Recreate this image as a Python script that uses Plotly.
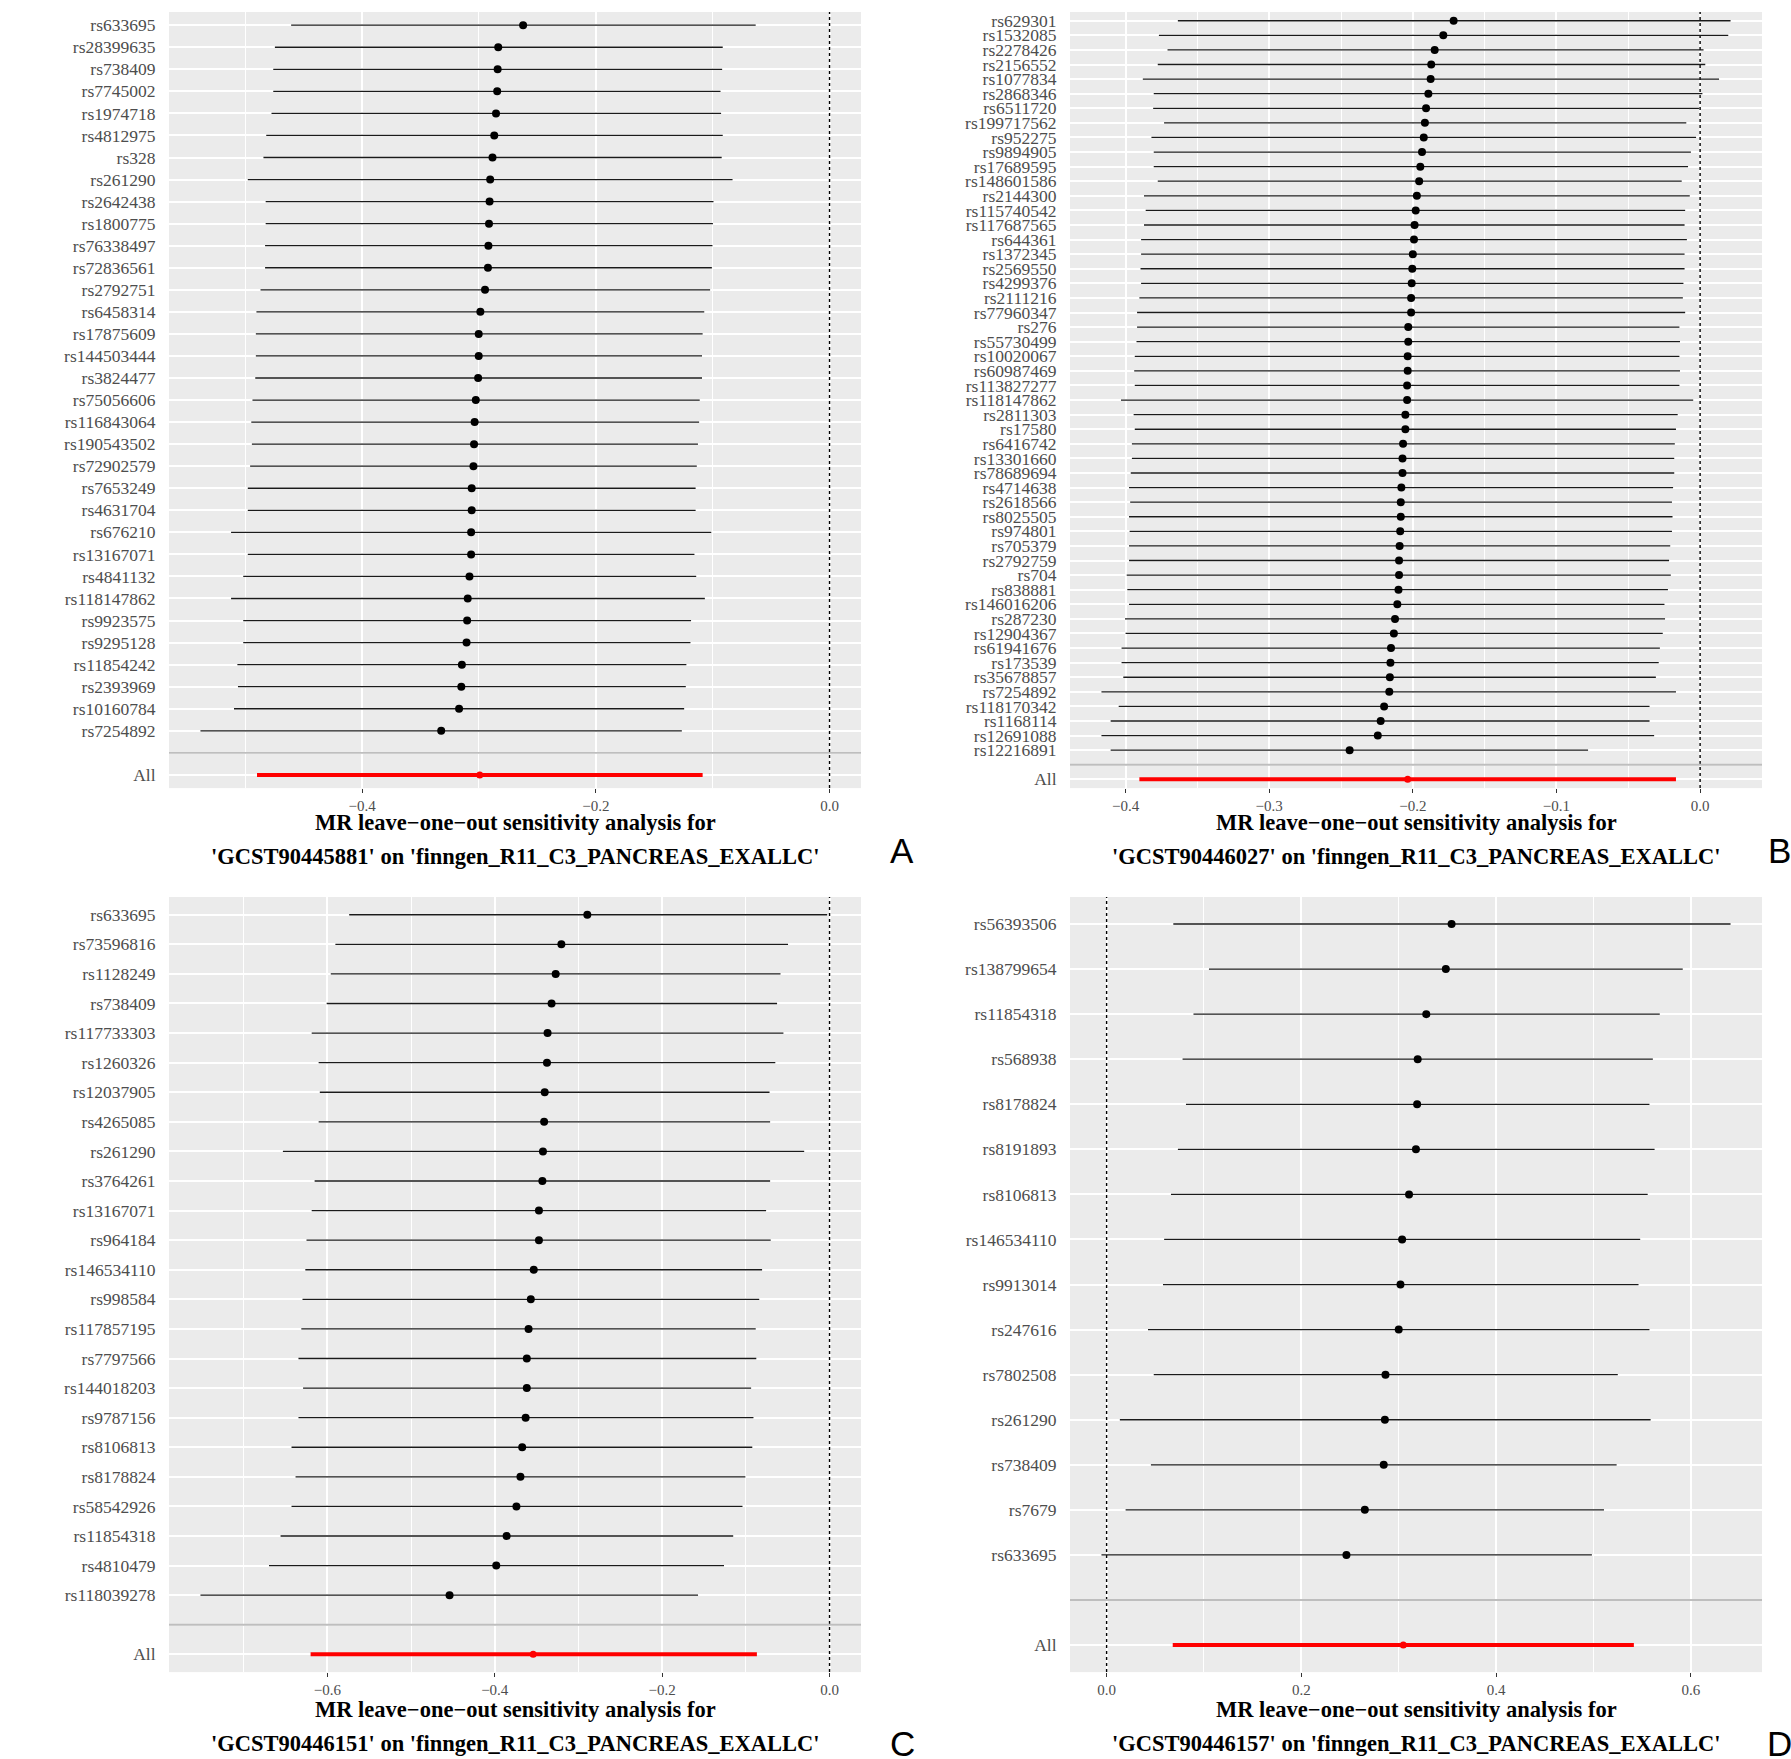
import plotly.graph_objects as go

# ---------------- Panel A : GCST90445881 ----------------
snps_a = ["rs633695", "rs28399635", "rs738409", "rs7745002", "rs1974718", "rs4812975", "rs328",
          "rs261290", "rs2642438", "rs1800775", "rs76338497", "rs72836561", "rs2792751", "rs6458314",
          "rs17875609", "rs144503444", "rs3824477", "rs75056606", "rs116843064", "rs190543502",
          "rs72902579", "rs7653249", "rs4631704", "rs676210", "rs13167071", "rs4841132",
          "rs118147862", "rs9923575", "rs9295128", "rs11854242", "rs2393969", "rs10160784", "rs7254892"]
b_a = [-0.2622, -0.2835, -0.2840, -0.2844, -0.2854, -0.2869, -0.2884, -0.2904, -0.2909, -0.2914,
       -0.2919, -0.2923, -0.2948, -0.2988, -0.3002, -0.3002, -0.3007, -0.3027, -0.3037, -0.3042,
       -0.3047, -0.3062, -0.3062, -0.3067, -0.3067, -0.3081, -0.3096, -0.3101, -0.3106, -0.3146,
       -0.3151, -0.3170, -0.3323]
lo_a = [-0.4607, -0.4746, -0.4760, -0.4760, -0.4775, -0.4820, -0.4844, -0.4978, -0.4825, -0.4825,
        -0.4830, -0.4830, -0.4869, -0.4904, -0.4909, -0.4909, -0.4914, -0.4938, -0.4948, -0.4943,
        -0.4958, -0.4978, -0.4978, -0.5121, -0.4978, -0.5017, -0.5121, -0.5017, -0.5017, -0.5067,
        -0.5062, -0.5096, -0.5383]
hi_a = [-0.0632, -0.0914, -0.0919, -0.0933, -0.0928, -0.0914, -0.0923, -0.0830, -0.0993, -0.0998,
        -0.1002, -0.1007, -0.1022, -0.1072, -0.1086, -0.1091, -0.1091, -0.1111, -0.1116, -0.1126,
        -0.1136, -0.1146, -0.1146, -0.1012, -0.1156, -0.1141, -0.1067, -0.1185, -0.1190, -0.1225,
        -0.1230, -0.1244, -0.1264]
all_a = [-0.2993, -0.4899, -0.1086]   # b, lower, upper

# ---------------- Panel B : GCST90446027 ----------------
snps_b = ["rs629301", "rs1532085", "rs2278426", "rs2156552", "rs1077834", "rs2868346", "rs6511720",
          "rs199717562", "rs952275", "rs9894905", "rs17689595", "rs148601586", "rs2144300",
          "rs115740542", "rs117687565", "rs644361", "rs1372345", "rs2569550", "rs4299376",
          "rs2111216", "rs77960347", "rs276", "rs55730499", "rs10020067", "rs60987469",
          "rs113827277", "rs118147862", "rs2811303", "rs17580", "rs6416742", "rs13301660",
          "rs78689694", "rs4714638", "rs2618566", "rs8025505", "rs974801", "rs705379", "rs2792759",
          "rs704", "rs838881", "rs146016206", "rs287230", "rs12904367", "rs61941676", "rs173539",
          "rs35678857", "rs7254892", "rs118170342", "rs1168114", "rs12691088", "rs12216891"]
b_b = [-0.1716, -0.1788, -0.1848, -0.1872, -0.1876, -0.1892, -0.1908, -0.1916, -0.1924, -0.1936,
       -0.1948, -0.1956, -0.1972, -0.1980, -0.1988, -0.1992, -0.2000, -0.2004, -0.2008, -0.2012,
       -0.2012, -0.2032, -0.2032, -0.2036, -0.2036, -0.2040, -0.2040, -0.2052, -0.2052, -0.2068,
       -0.2072, -0.2072, -0.2080, -0.2084, -0.2084, -0.2088, -0.2092, -0.2096, -0.2096, -0.2100,
       -0.2108, -0.2124, -0.2132, -0.2152, -0.2156, -0.2160, -0.2164, -0.2200, -0.2224, -0.2244,
       -0.2440]
lo_b = [-0.3636, -0.3768, -0.3708, -0.3776, -0.3880, -0.3804, -0.3808, -0.3732, -0.3820, -0.3804,
        -0.3804, -0.3776, -0.3872, -0.3860, -0.3872, -0.3892, -0.3892, -0.3896, -0.3892, -0.3904,
        -0.3920, -0.3920, -0.3924, -0.3936, -0.3940, -0.3936, -0.4032, -0.3944, -0.3936, -0.3956,
        -0.3956, -0.3964, -0.3976, -0.3968, -0.3976, -0.3972, -0.3976, -0.3976, -0.3992, -0.3988,
        -0.3976, -0.4004, -0.4000, -0.4028, -0.4028, -0.4016, -0.4168, -0.4048, -0.4104, -0.4168,
        -0.4104]
hi_b = [0.0212, 0.0196, 0.0024, 0.0036, 0.0132, 0.0016, -0.0008, -0.0096, -0.0028, -0.0064,
        -0.0084, -0.0128, -0.0072, -0.0104, -0.0108, -0.0092, -0.0108, -0.0108, -0.0116, -0.0120,
        -0.0104, -0.0144, -0.0140, -0.0144, -0.0140, -0.0144, -0.0048, -0.0156, -0.0168, -0.0176,
        -0.0180, -0.0180, -0.0188, -0.0196, -0.0192, -0.0196, -0.0208, -0.0216, -0.0204, -0.0224,
        -0.0248, -0.0244, -0.0260, -0.0280, -0.0288, -0.0308, -0.0168, -0.0352, -0.0352, -0.0320,
        -0.0780]
all_b = [-0.2036, -0.3904, -0.0168]

# ---------------- Panel C : GCST90446151 ----------------
snps_c = ["rs633695", "rs73596816", "rs1128249", "rs738409", "rs117733303", "rs1260326",
          "rs12037905", "rs4265085", "rs261290", "rs3764261", "rs13167071", "rs964184",
          "rs146534110", "rs998584", "rs117857195", "rs7797566", "rs144018203", "rs9787156",
          "rs8106813", "rs8178824", "rs58542926", "rs11854318", "rs4810479", "rs118039278"]
b_c = [-0.2894, -0.3204, -0.3272, -0.3321, -0.3369, -0.3376, -0.3403, -0.3410, -0.3424, -0.3431,
       -0.3472, -0.3472, -0.3534, -0.3569, -0.3596, -0.3617, -0.3617, -0.3631, -0.3672, -0.3693,
       -0.3741, -0.3858, -0.3982, -0.4540]
lo_c = [-0.5739, -0.5904, -0.5959, -0.6008, -0.6187, -0.6104, -0.6090, -0.6104, -0.6531, -0.6152,
        -0.6187, -0.6249, -0.6263, -0.6297, -0.6311, -0.6345, -0.6290, -0.6345, -0.6428, -0.6380,
        -0.6428, -0.6559, -0.6697, -0.7516]
hi_c = [-0.0028, -0.0496, -0.0586, -0.0627, -0.0551, -0.0648, -0.0717, -0.0710, -0.0303, -0.0710,
        -0.0758, -0.0703, -0.0806, -0.0840, -0.0882, -0.0875, -0.0937, -0.0909, -0.0923, -0.1006,
        -0.1040, -0.1151, -0.1261, -0.1571]
all_c = [-0.3541, -0.6200, -0.0868]

# ---------------- Panel D : GCST90446157 ----------------
snps_d = ["rs56393506", "rs138799654", "rs11854318", "rs568938", "rs8178824", "rs8191893",
          "rs8106813", "rs146534110", "rs9913014", "rs247616", "rs7802508", "rs261290",
          "rs738409", "rs7679", "rs633695"]
b_d = [0.3543, 0.3484, 0.3283, 0.3195, 0.3189, 0.3177, 0.3106, 0.3035, 0.3018, 0.3000, 0.2864,
       0.2858, 0.2846, 0.2652, 0.2463]
lo_d = [0.0685, 0.1051, 0.0892, 0.0780, 0.0815, 0.0732, 0.0661, 0.0591, 0.0579, 0.0425, 0.0484,
        0.0136, 0.0455, 0.0195, -0.0053]
hi_d = [0.6408, 0.5917, 0.5681, 0.5610, 0.5575, 0.5628, 0.5557, 0.5480, 0.5463, 0.5575, 0.5250,
        0.5587, 0.5238, 0.5108, 0.4984]
all_d = [0.3047, 0.0679, 0.5415]

exposures = ["GCST90445881", "GCST90446027", "GCST90446151", "GCST90446157"]
outcome = "finngen_R11_C3_PANCREAS_EXALLC"
panel_letters = ["A", "B", "C", "D"]
major_dticks = [0.2, 0.1, 0.2, 0.2]

W, H = 1791, 1759
xdom_left = [169 / W, 861 / W]
xdom_right = [1070 / W, 1762 / W]
ydom_top = [1 - 788 / H, 1 - 11 / H]
ydom_bot = [1 - 1673 / H, 1 - 897 / H]
domains = [(xdom_left, ydom_top), (xdom_right, ydom_top), (xdom_left, ydom_bot), (xdom_right, ydom_bot)]
title_y = [(1 - 822 / H, 1 - 856 / H), (1 - 822 / H, 1 - 856 / H),
           (1 - 1710 / H, 1 - 1744 / H), (1 - 1710 / H, 1 - 1744 / H)]
letter_pos = [(902 / W, 1 - 850 / H), (1779 / W, 1 - 850 / H),
              (902 / W, 1 - 1744 / H), (1779 / W, 1 - 1744 / H)]

panels = [(snps_a, b_a, lo_a, hi_a, all_a), (snps_b, b_b, lo_b, hi_b, all_b),
          (snps_c, b_c, lo_c, hi_c, all_c), (snps_d, b_d, lo_d, hi_d, all_d)]

SERIF = "Liberation Serif, Times New Roman, serif"
fig = go.Figure()
annotations = []
layout = {}

for i, (snps, b, lo, hi, allv) in enumerate(panels):
    k = i + 1
    xa = "x" if k == 1 else f"x{k}"
    ya = "y" if k == 1 else f"y{k}"
    n = len(snps)
    ypos = [n + 2 - j for j in range(n)]
    yr = [0.4, n + 2.6]

    xmin = min(min(lo), allv[1], 0)
    xmax = max(max(hi), allv[2], 0)
    pad = 0.05 * (xmax - xmin)
    xr = [xmin - pad, xmax + pad]

    # dotted reference line at zero
    fig.add_trace(go.Scatter(x=[0, 0], y=yr, mode="lines", xaxis=xa, yaxis=ya,
                             line=dict(color="black", width=1.4, dash="dot"),
                             showlegend=False, hoverinfo="skip"))
    # grey separator line at the blank row
    fig.add_trace(go.Scatter(x=xr, y=[2, 2], mode="lines", xaxis=xa, yaxis=ya,
                             line=dict(color="#BEBEBE", width=1.8),
                             showlegend=False, hoverinfo="skip"))

    fig.add_trace(go.Scatter(
        x=b, y=ypos, mode="markers", xaxis=xa, yaxis=ya,
        marker=dict(color="black", size=8),
        error_x=dict(type="data", symmetric=False,
                     array=[h - v for h, v in zip(hi, b)],
                     arrayminus=[v - l for v, l in zip(b, lo)],
                     width=0, thickness=1.3, color="#1a1a1a"),
        showlegend=False, hoverinfo="skip"))
    fig.add_trace(go.Scatter(
        x=[allv[0]], y=[1], mode="markers", xaxis=xa, yaxis=ya,
        marker=dict(color="red", size=7),
        error_x=dict(type="data", symmetric=False, array=[allv[2] - allv[0]],
                     arrayminus=[allv[0] - allv[1]], width=0, thickness=4, color="red"),
        showlegend=False, hoverinfo="skip"))

    dt = major_dticks[i]
    xd, yd = domains[i]
    layout["xaxis" if k == 1 else f"xaxis{k}"] = dict(
        domain=xd, anchor=ya, range=xr,
        dtick=dt, tick0=0, tickformat=".1f",
        showgrid=True, gridcolor="white", gridwidth=2, zeroline=False,
        ticks="outside", ticklen=4, tickwidth=1, tickcolor="#333333",
        tickfont=dict(family=SERIF, size=15, color="#4d4d4d"),
        minor=dict(dtick=dt / 2, tick0=0, showgrid=True, gridcolor="white", gridwidth=1, ticklen=0),
        showline=False, fixedrange=True)
    layout["yaxis" if k == 1 else f"yaxis{k}"] = dict(
        domain=yd, anchor=xa, range=yr,
        tickvals=list(range(1, n + 3)), ticktext=["All", ""] + list(reversed(snps)),
        showgrid=True, gridcolor="white", gridwidth=2, zeroline=False,
        ticks="outside", ticklen=9, tickcolor="rgba(0,0,0,0)",
        tickfont=dict(family=SERIF, size=17.5, color="#4d4d4d"),
        showline=False, fixedrange=True)

    cx = (xd[0] + xd[1]) / 2
    annotations.append(dict(text="<b>MR leave\u2212one\u2212out sensitivity analysis for</b>",
                            x=cx, y=title_y[i][0], xref="paper", yref="paper",
                            xanchor="center", yanchor="middle", showarrow=False,
                            font=dict(family=SERIF, size=22.5, color="black")))
    annotations.append(dict(text=f"<b>'{exposures[i]}' on '{outcome}'</b>",
                            x=cx, y=title_y[i][1], xref="paper", yref="paper",
                            xanchor="center", yanchor="middle", showarrow=False,
                            font=dict(family=SERIF, size=22.5, color="black")))
    annotations.append(dict(text=panel_letters[i], x=letter_pos[i][0], y=letter_pos[i][1],
                            xref="paper", yref="paper", xanchor="center", yanchor="middle",
                            showarrow=False,
                            font=dict(family="Liberation Sans Narrow, Liberation Sans, Arial, sans-serif",
                                      size=35, color="black")))

fig.update_layout(**layout)
fig.update_layout(width=W, height=H, margin=dict(l=0, r=0, t=0, b=0),
                  paper_bgcolor="white", plot_bgcolor="#EBEBEB",
                  annotations=annotations, showlegend=False)

fig.write_html("out.html", config={"displayModeBar": False},
               post_script="document.body.style.margin='0px';document.body.style.overflow='hidden';")
